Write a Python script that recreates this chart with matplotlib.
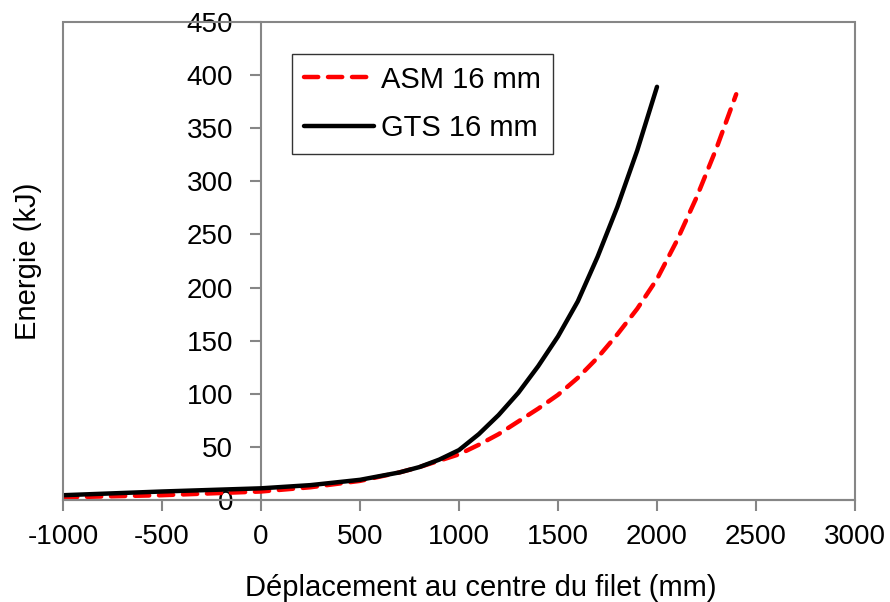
import matplotlib
matplotlib.use("Agg")
import matplotlib.pyplot as plt
from matplotlib.patches import Rectangle

plt.rcParams['font.family'] = ['Liberation Sans', 'DejaVu Sans']
plt.rcParams['axes.unicode_minus'] = False

# Energy absorbed vs. displacement at the net centre
asm_x = [-1000, -500, 0, 250, 500, 700, 800, 900, 1000, 1100, 1200, 1300,
         1400, 1500, 1600, 1700, 1800, 1900, 2000, 2100, 2200, 2300, 2400]
asm_y = [2.5, 4.5, 8, 12, 18, 26, 31, 37, 43, 52, 62, 74,
         86, 99, 115, 134, 156, 180, 208, 244, 285, 331, 382]

gts_x = [-1000, -500, 0, 250, 500, 700, 800, 900, 1000, 1100, 1200, 1300,
         1400, 1500, 1600, 1700, 1800, 1900, 2000]
gts_y = [4.5, 8, 11, 14, 19, 26, 31, 38, 47, 62, 80, 101,
         126, 154, 187, 229, 276, 329, 389]

x_ticks = [-1000, -500, 0, 500, 1000, 1500, 2000, 2500, 3000]
y_ticks = [0, 50, 100, 150, 200, 250, 300, 350, 400, 450]

grey = '#868686'

fig = plt.figure(figsize=(8.9, 6.02), dpi=100)
ax = fig.add_axes([63 / 890, 1 - 500 / 602, 792 / 890, 478 / 602])

ax.plot(asm_x, asm_y, color='#ff0000', lw=3.2, ls=(0, (3.2, 2.2)),
        dash_capstyle='round', label='ASM 16 mm', zorder=3)
ax.plot(gts_x, gts_y, color='black', lw=3.2, solid_capstyle='round',
        label='GTS 16 mm', zorder=4)

ax.set_xlim(-1000, 3000)
ax.set_ylim(0, 450)
ax.set_xticks(x_ticks)
ax.set_yticks(y_ticks)

# y axis crosses at x = 0
ax.spines['left'].set_position(('data', 0))
for s in ax.spines.values():
    s.set_color(grey)
    s.set_linewidth(1.5)
ax.spines['top'].set_visible(False)
ax.spines['right'].set_visible(False)
# outer frame of the plot area
ax.add_patch(Rectangle((0, 0), 1, 1, transform=ax.transAxes, fill=False,
                       edgecolor=grey, lw=1.5, clip_on=False, zorder=5))

ax.tick_params(axis='both', direction='out', color=grey, width=1.5,
               labelsize=20, labelcolor='black')
ax.tick_params(axis='y', length=8, pad=12)
ax.tick_params(axis='x', length=8, pad=9)
for lbl in ax.get_yticklabels():
    lbl.set_zorder(6)

leg = ax.legend(loc='upper left', bbox_to_anchor=(292 / 890, 1 - 54 / 602),
                bbox_transform=fig.transFigure, fontsize=21, frameon=True,
                fancybox=False, handlelength=2.4, handletextpad=0.25,
                borderpad=0.4, labelspacing=0.7, borderaxespad=0)
leg.get_frame().set_edgecolor('black')
leg.get_frame().set_linewidth(1.0)

fig.text(481 / 890, 1 - 588 / 602, 'Déplacement au centre du filet (mm)',
         ha='center', va='center', fontsize=21)
fig.text(28 / 890, 1 - 261 / 602, 'Energie (kJ)', rotation=90,
         ha='center', va='center', fontsize=21)

fig.savefig('out.png', dpi=100)
